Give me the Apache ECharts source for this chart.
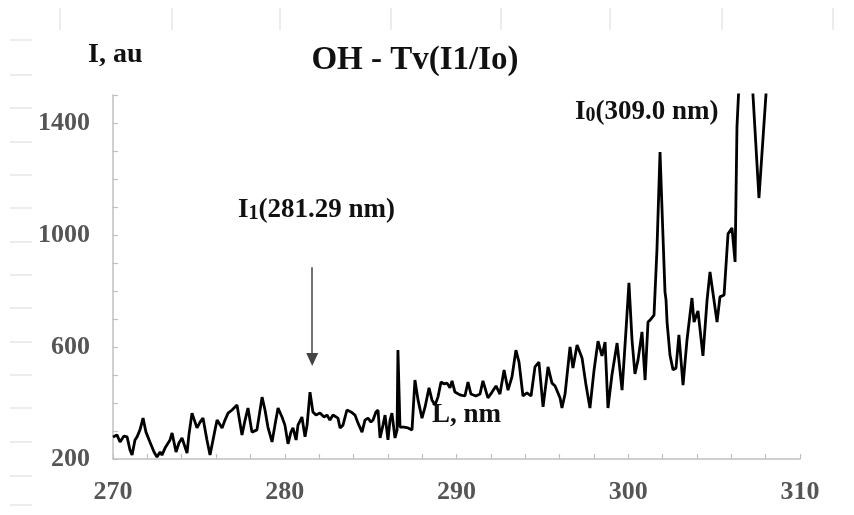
<!DOCTYPE html>
<html>
<head>
<meta charset="utf-8">
<script src="https://cdn.jsdelivr.net/npm/echarts@6/dist/echarts.min.js"></script>
<style>
html,body{margin:0;padding:0;background:#fff;}
#chart{width:854px;height:515px;}
</style>
</head>
<body>
<div id="chart"></div>
<script>
// Wavelength, nm
const wavelength = [270.00,270.23,270.41,270.64,270.82,270.99,271.11,271.28,271.40,271.57,
271.75,271.92,272.15,272.39,272.56,272.74,272.85,273.03,273.14,273.32,
273.44,273.67,273.84,274.02,274.31,274.42,274.60,274.89,275.07,275.24,
275.47,275.65,275.76,275.94,276.06,276.35,276.52,276.70,276.93,277.22,
277.51,277.69,277.86,278.09,278.38,278.68,278.85,279.02,279.26,279.43,
279.61,279.84,280.01,280.19,280.36,280.48,280.66,280.77,281.00,281.18,
281.30,281.47,281.64,281.82,282.05,282.29,282.46,282.63,282.81,283.10,
283.22,283.39,283.62,283.86,284.09,284.26,284.50,284.67,284.85,285.02,
285.14,285.31,285.43,285.55,285.72,285.84,286.01,286.13,286.24,286.42,
286.54,286.59,286.71,286.94,287.18,287.41,287.58,287.76,287.99,288.17,
288.40,288.57,288.75,288.92,289.10,289.27,289.45,289.62,289.74,289.91,
290.20,290.49,290.67,290.84,291.13,291.37,291.54,291.83,292.07,292.30,
292.53,292.77,293.00,293.23,293.46,293.64,293.87,294.10,294.34,294.57,
294.80,295.04,295.33,295.56,295.74,295.85,296.03,296.14,296.32,296.61,
296.78,297.02,297.31,297.54,297.77,298.01,298.24,298.47,298.65,298.82,
299.05,299.35,299.64,299.87,300.04,300.22,300.39,300.57,300.80,300.98,
301.15,301.27,301.50,301.67,301.85,302.02,302.14,302.20,302.26,302.43,
302.61,302.78,302.95,303.19,303.42,303.71,303.83,304.06,304.35,304.59,
304.76,304.99,305.17,305.34,305.58,305.81,306.04,306.22,306.33,306.80,
307.61,308.25];
// Intensity, au
const intensity = [279,286,261,282,279,232,214,268,279,304,
346,296,261,225,207,225,214,239,232,268,
293,225,257,275,221,286,364,311,332,346,
268,214,207,304,339,311,339,364,375,393,
286,339,382,296,304,421,375,314,261,321,
382,350,321,254,296,311,268,321,350,279,
321,439,368,357,364,350,357,339,357,346,
311,321,375,368,357,329,296,339,346,332,
339,368,375,275,321,357,268,339,364,275,
304,589,314,314,311,304,482,411,346,386,
454,411,393,421,475,468,471,454,479,439,
429,425,475,432,425,432,479,418,439,461,
432,518,446,493,589,546,425,436,425,529,
546,386,529,471,461,468,418,382,432,600,
525,607,561,464,382,518,621,568,618,382,
500,614,446,661,829,625,504,554,654,482,
689,696,714,946,1296,1000,796,768,689,571,
518,525,643,464,625,775,689,729,568,768,
868,768,689,779,786,1004,1025,904,1386,1989,
1132,1711];
const xTickLabels = [270, 280, 290, 300, 310];
const yTickLabels = [200, 600, 1000, 1400];
// Arrow marking I1 line: [wavelength, from intensity, to intensity]
const arrowI1 = [281.6, 885, 555];

const serif = '"Liberation Serif","Times New Roman",serif';
const chart = echarts.init(document.getElementById('chart'), null, {renderer: 'canvas'});

const faint = [];
[60,172,280,391,501,610,722,833].forEach(x => faint.push({type:'line', shape:{x1:x,y1:8,x2:x,y2:30}, style:{stroke:'#e6e6e6', lineWidth:1.5}, silent:true}));
[40,75,108,142,175,208,242,275,308,342,375,408,442,476,505].forEach(y => faint.push({type:'line', shape:{x1:10,y1:y,x2:32,y2:y}, style:{stroke:'#e6e6e6', lineWidth:1.5}, silent:true}));

const annRich = {
  a: {font: 'bold 27px ' + serif, fill: '#111'},
  s: {font: 'bold 20px ' + serif, fill: '#111', padding: [8, 0, 0, 0]}
};

chart.setOption({
  backgroundColor: '#fff',
  animation: false,
  grid: {left: 113, right: 54, top: 95, bottom: 56, containLabel: false},
  xAxis: {
    type: 'value', min: 270, max: 310, interval: 2,
    axisLine: {show: true, lineStyle: {color: '#c0c0c0', width: 1.5}},
    axisTick: {show: true, inside: true, length: 5, lineStyle: {color: '#c0c0c0', width: 1.2}},
    splitLine: {show: false},
    axisLabel: {
      margin: 20, color: '#555', fontFamily: serif, fontWeight: 'bold', fontSize: 26,
      formatter: v => xTickLabels.indexOf(Math.round(v)) >= 0 && Math.abs(v - Math.round(v)) < 1e-6 ? String(Math.round(v)) : ''
    }
  },
  yAxis: {
    type: 'value', min: 200, max: 1500, interval: 100,
    axisLine: {show: true, lineStyle: {color: '#c0c0c0', width: 1.5}},
    axisTick: {show: true, inside: true, length: 5, lineStyle: {color: '#c0c0c0', width: 1.2}},
    splitLine: {show: false},
    axisLabel: {
      margin: 23, color: '#555', fontFamily: serif, fontWeight: 'bold', fontSize: 26,
      formatter: v => yTickLabels.indexOf(Math.round(v)) >= 0 ? String(Math.round(v)) : ''
    }
  },
  series: [{
    type: 'line',
    data: wavelength.map((w, i) => [w, intensity[i]]),
    showSymbol: false,
    clip: true,
    lineStyle: {color: '#000', width: 2.8},
    markLine: {
      silent: true,
      symbol: ['none', 'triangle'],
      symbolSize: [12, 13],
      label: {show: false},
      lineStyle: {color: '#444', width: 1.5, type: 'solid'},
      data: [[{coord: [arrowI1[0], arrowI1[1]]}, {coord: [arrowI1[0], arrowI1[2]]}]]
    }
  }],
  graphic: faint.concat([
    {type: 'text', x: 415, y: 60, silent: true, style: {text: 'OH - Tv(I1/Io)', font: 'bold 33px ' + serif, fill: '#111', align: 'center', verticalAlign: 'middle'}},
    {type: 'text', x: 88, y: 55, silent: true, style: {text: 'I, au', font: 'bold 28px ' + serif, fill: '#111', align: 'left', verticalAlign: 'middle'}},
    {type: 'text', x: 238, y: 210, silent: true, style: {text: '{a|I}{s|1}{a|(281.29 nm)}', rich: annRich, align: 'left', verticalAlign: 'middle'}},
    {type: 'text', x: 575, y: 112, silent: true, style: {text: '{a|I}{s|0}{a|(309.0 nm)}', rich: annRich, align: 'left', verticalAlign: 'middle'}},
    {type: 'text', x: 432, y: 415, silent: true, style: {text: 'L, nm', font: 'bold 27px ' + serif, fill: '#111', align: 'left', verticalAlign: 'middle'}}
  ])
});
</script>
</body>
</html>
